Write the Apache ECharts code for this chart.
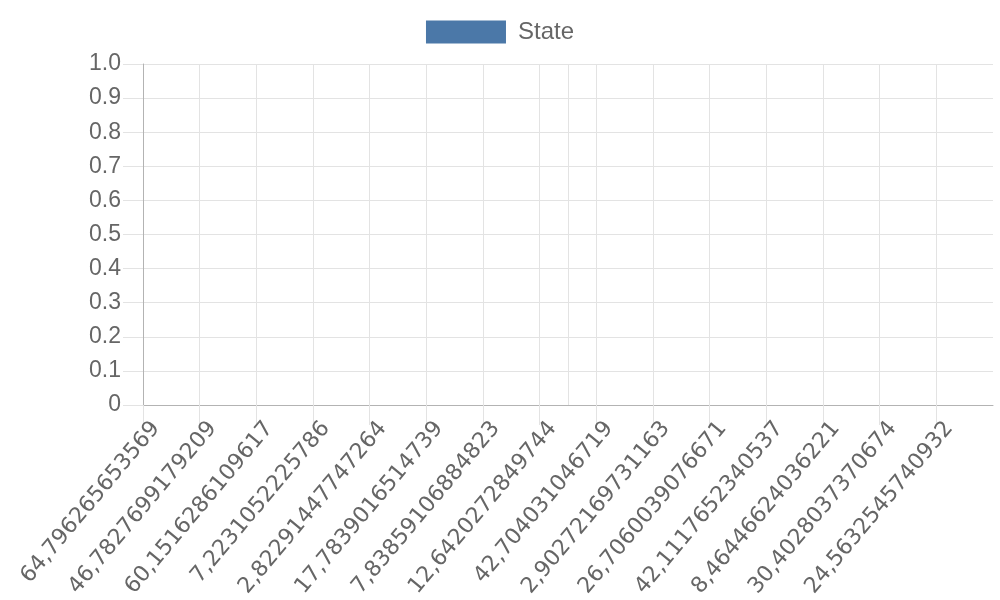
<!DOCTYPE html>
<html>
<head>
<meta charset="utf-8">
<script src="https://cdn.jsdelivr.net/npm/echarts@6/dist/echarts.min.js"></script>
<style>html,body{margin:0;padding:0;background:#fff}#c{width:1000px;height:600px}</style>
</head>
<body>
<div id="c"></div>
<script>
const categories = ['64,796265653569','46,7827699179209','60,1516286109617','7,2231052225786','2,82291447747264','17,7839016514739','7,83859106884823','12,6420272849744','42,704031046719','2,90272169731163','26,7060039076671','42,1117652340537','8,46446624036221','30,4028037370674','24,5632545740932'];
const stateValues = [null,null,null,null,null,null,null,null,null,null,null,null,null,null,null];
const yTicks = [0,0.1,0.2,0.3,0.4,0.5,0.6,0.7,0.8,0.9,1.0];
const extraGridAt = [7.5];

const axisCats = categories.concat(['']);
const chart = echarts.init(document.getElementById('c'), null, {renderer:'canvas'});
const font = 'Liberation Sans, Arial, sans-serif';
const gridC = '#e3e3e3';
chart.setOption({
  animation:false,
  legend:{
    top:20, left:'center', padding:0, icon:'rect', itemWidth:80, itemHeight:23, itemGap:12,
    textStyle:{fontSize:24, color:'#666', fontFamily:font, padding:[0,0,0,7]},
    data:['State']
  },
  grid:{left:143, right:7, top:64, bottom:195, containLabel:false, outerBoundsMode:'none'},
  xAxis:[{
    type:'category', data:axisCats, boundaryGap:false,
    axisLine:{show:true, lineStyle:{color:'#b3b3b3', width:1}},
    axisTick:{show:true, length:20, interval:function(i){return i<categories.length;}, lineStyle:{color:gridC}},
    splitLine:{show:true, interval:function(i){return i<categories.length;}, lineStyle:{color:gridC, width:1}},
    axisLabel:{interval:0, rotate:50, margin:35, fontSize:22, color:'#666', fontFamily:"'DejaVu Sans', sans-serif", padding:[0,-20,0,0]}
  },{
    type:'value', min:0, max:categories.length, show:false,
    splitLine:{show:false}, axisLine:{show:false}, axisTick:{show:false}, axisLabel:{show:false}
  }],
  yAxis:{
    type:'value', min:yTicks[0], max:yTicks[yTicks.length-1], interval:0.1,
    axisLine:{show:true, lineStyle:{color:'#b3b3b3', width:1}},
    axisTick:{show:true, length:20, lineStyle:{color:gridC}},
    splitLine:{show:true, lineStyle:{color:gridC, width:1}},
    axisLabel:{fontSize:23, color:'#666', fontFamily:font, margin:22,
      formatter:function(v){return Math.abs(v)<1e-9 ? '0' : v.toFixed(1);}}
  },
  series:[{
    name:'State', type:'bar', data:stateValues,
    itemStyle:{color:'#4b78a8'}
  },{
    name:'grid-extra', type:'line', xAxisIndex:1, data:[], silent:true,
    markLine:{silent:true, symbol:'none', label:{show:false},
      lineStyle:{color:gridC, type:'solid', width:1},
      data:extraGridAt.map(function(v){return {xAxis:v};})}
  }]
});
</script>
</body>
</html>
